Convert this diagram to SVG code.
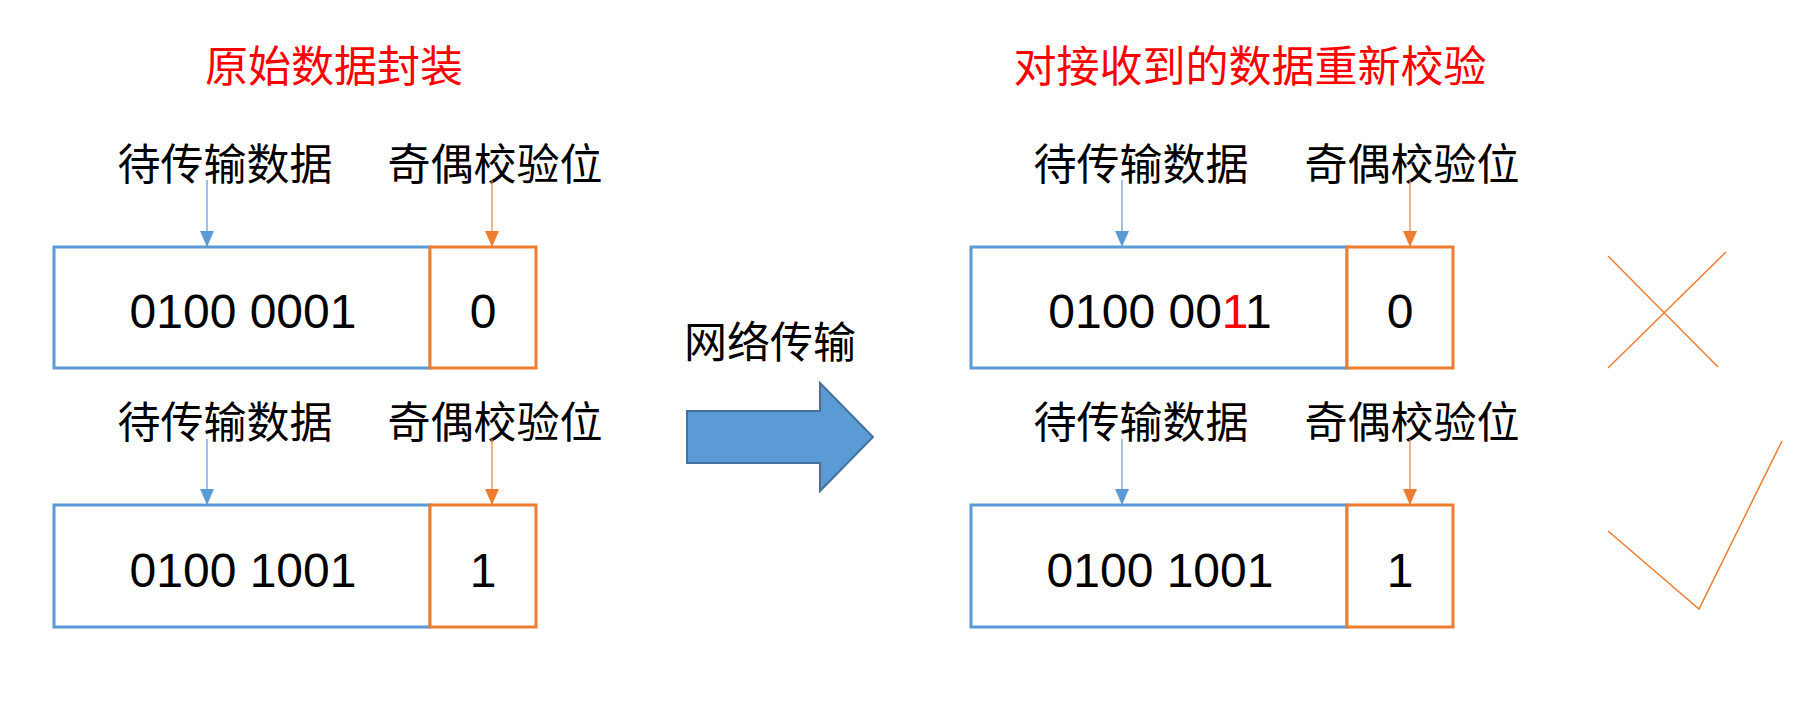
<svg xmlns="http://www.w3.org/2000/svg" width="1804" height="719" viewBox="0 0 1804 719">
<style>
.title{font-family:"Noto Sans CJK SC","Noto Sans CJK JP",sans-serif;font-size:43px;fill:#FF0000;text-anchor:middle}
.lbl{font-family:"Noto Sans CJK SC","Noto Sans CJK JP",sans-serif;font-size:43px;fill:#000;text-anchor:middle}
.num{font-family:"Liberation Sans",Arial,sans-serif;font-size:48px;fill:#000;text-anchor:middle}
.data{fill:#fff;stroke:#5B9BD5;stroke-width:3}
.par{fill:#fff;stroke:#ED7D31;stroke-width:3}
.lb{stroke:#5B9BD5;stroke-width:1.2;fill:none}
.lo{stroke:#ED7D31;stroke-width:1.2;fill:none}
.mark{stroke:#ED7D31;stroke-width:1.5;fill:none}
</style>
<defs>
<marker id="ab" markerUnits="userSpaceOnUse" markerWidth="16" markerHeight="14" viewBox="0 0 16 14" refX="16" refY="7" orient="auto"><path d="M0,0 L16,7 L0,14 z" fill="#5B9BD5"/></marker>
<marker id="ao" markerUnits="userSpaceOnUse" markerWidth="16" markerHeight="14" viewBox="0 0 16 14" refX="16" refY="7" orient="auto"><path d="M0,0 L16,7 L0,14 z" fill="#ED7D31"/></marker>
</defs>
<rect width="1804" height="719" fill="#fff"/>

<g id="title-left"><text class="title" x="334" y="82">原始数据封装</text></g>
<g id="title-right"><text class="title" x="1250" y="82">对接收到的数据重新校验</text></g>

<g id="left-row1">
<text class="lbl" x="225" y="180">待传输数据</text>
<text class="lbl" x="495" y="180">奇偶校验位</text>
<rect class="data" x="54" y="247" width="376" height="121"/>
<rect class="par" x="430" y="247" width="106" height="121"/>
<text class="num" x="243" y="328">0100 0001</text>
<text class="num" x="483" y="328">0</text>
</g>
<g id="left-row2">
<text class="lbl" x="225" y="438">待传输数据</text>
<text class="lbl" x="495" y="438">奇偶校验位</text>
<rect class="data" x="54" y="505" width="376" height="122"/>
<rect class="par" x="430" y="505" width="106" height="122"/>
<text class="num" x="243" y="587">0100 1001</text>
<text class="num" x="483" y="587">1</text>
</g>

<g id="network">
<text class="lbl" x="770" y="358">网络传输</text>
<path d="M687,411 L820,411 L820,383 L873,437 L820,491 L820,463 L687,463 Z" fill="#5B9BD5" stroke="#41719C" stroke-width="2"/>
</g>

<g id="right-row1">
<text class="lbl" x="1141" y="180">待传输数据</text>
<text class="lbl" x="1412" y="180">奇偶校验位</text>
<rect class="data" x="971" y="247" width="376" height="121"/>
<rect class="par" x="1347" y="247" width="106" height="121"/>
<text class="num" x="1160" y="328">0100 00<tspan fill="#FF0000">1</tspan>1</text>
<text class="num" x="1400" y="328">0</text>
</g>
<g id="right-row2">
<text class="lbl" x="1141" y="438">待传输数据</text>
<text class="lbl" x="1412" y="438">奇偶校验位</text>
<rect class="data" x="971" y="505" width="376" height="122"/>
<rect class="par" x="1347" y="505" width="106" height="122"/>
<text class="num" x="1160" y="587">0100 1001</text>
<text class="num" x="1400" y="587">1</text>
</g>

<g id="cross">
<line class="mark" x1="1608" y1="256" x2="1718" y2="367"/>
<line class="mark" x1="1608" y1="368" x2="1726" y2="252"/>
</g>
<g id="check">
<polyline class="mark" points="1608,531 1699,609 1782,441"/>
</g>

<g id="connectors">
<line class="lb" x1="207" y1="180" x2="207" y2="247" marker-end="url(#ab)"/>
<line class="lo" x1="492" y1="180" x2="492" y2="247" marker-end="url(#ao)"/>
<line class="lb" x1="207" y1="439" x2="207" y2="505" marker-end="url(#ab)"/>
<line class="lo" x1="492" y1="439" x2="492" y2="505" marker-end="url(#ao)"/>
<line class="lb" x1="1122" y1="180" x2="1122" y2="247" marker-end="url(#ab)"/>
<line class="lo" x1="1410" y1="180" x2="1410" y2="247" marker-end="url(#ao)"/>
<line class="lb" x1="1122" y1="439" x2="1122" y2="505" marker-end="url(#ab)"/>
<line class="lo" x1="1410" y1="439" x2="1410" y2="505" marker-end="url(#ao)"/>
</g>
</svg>
